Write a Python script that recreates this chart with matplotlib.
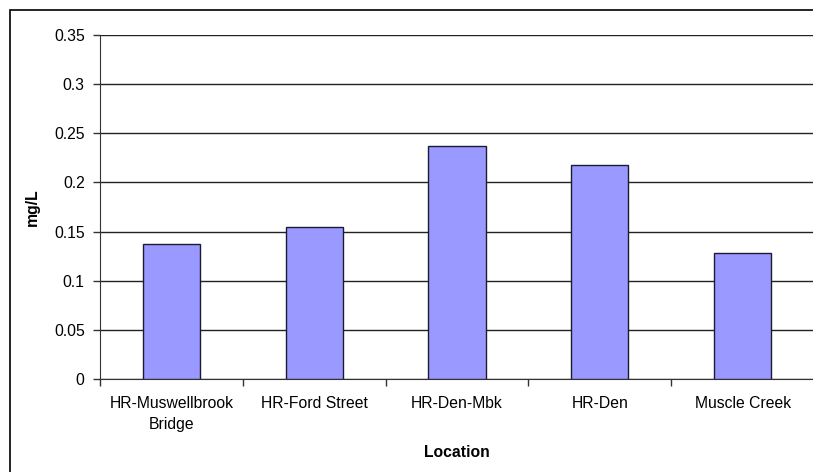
import numpy as np
import matplotlib
matplotlib.use("Agg")
import matplotlib.pyplot as plt
from matplotlib.patches import Rectangle

plt.rcParams['font.family'] = ['Liberation Sans', 'DejaVu Sans']

locations = ['HR-Muswellbrook\nBridge', 'HR-Ford Street', 'HR-Den-Mbk', 'HR-Den', 'Muscle Creek']
values = [0.137, 0.155, 0.237, 0.218, 0.128]
yticks = [0, 0.05, 0.1, 0.15, 0.2, 0.25, 0.3, 0.35]
ytick_labels = ['0', '0.05', '0.1', '0.15', '0.2', '0.25', '0.3', '0.35']

fs = 11.3

fig = plt.figure(figsize=(8.13, 4.72), dpi=100)
ax = fig.add_axes([100/813, 1 - 379/472, 714/813, 344/472])

# outer chart frame
fig.patches.append(Rectangle((10/813, -0.1), 1.2, 1.1 - 10/472, transform=fig.transFigure,
                             fill=False, edgecolor='black', linewidth=1.2))

x = np.arange(len(locations))
ax.bar(x, values, width=0.4, color='#9999ff', edgecolor='#1a1a33', linewidth=1.0, zorder=3)

ax.set_xlim(-0.5, len(locations) - 0.5)
ax.set_ylim(0, 0.35)
ax.set_yticks(yticks)
ax.set_yticklabels(ytick_labels)
ax.yaxis.grid(True, color='#222222', linewidth=1.0, zorder=0)
ax.set_axisbelow(True)

ax.set_xticks(x)
ax.set_xticklabels(locations, linespacing=1.55)
ax.set_xticks(np.arange(-0.5, len(locations), 1.0), minor=True)
ax.tick_params(axis='x', which='major', length=0, pad=12, labelsize=fs)
ax.tick_params(axis='x', which='minor', length=5, width=1, color='#333333', direction='out')
ax.tick_params(axis='y', length=5, width=1, color='#333333', pad=6, labelsize=fs)

for side in ['top', 'right']:
    ax.spines[side].set_visible(False)
ax.spines['left'].set_color('#333333')
ax.spines['bottom'].set_color('#333333')

ax.set_ylabel('mg/L', fontweight='bold', fontsize=fs)
ax.yaxis.set_label_coords(-0.084, 0.5)
ax.set_xlabel('Location', fontweight='bold', fontsize=fs)
ax.xaxis.set_label_coords(0.5, -0.192)

fig.savefig('out.png', dpi=100)
